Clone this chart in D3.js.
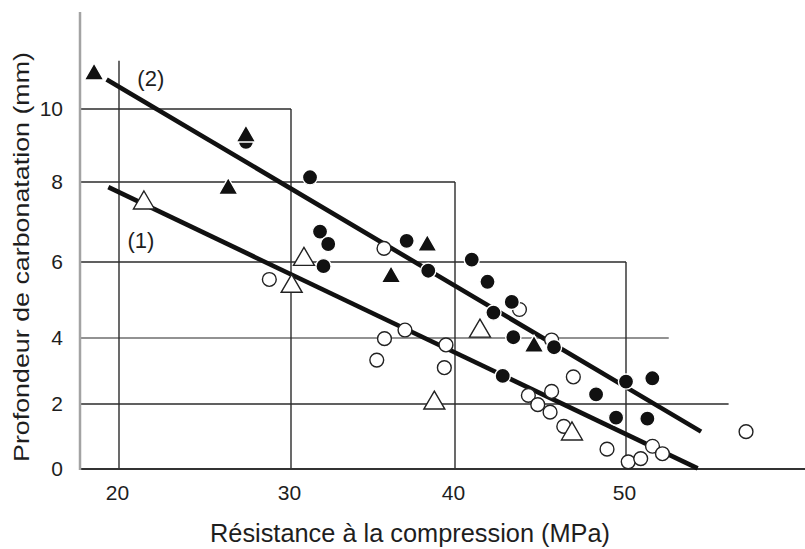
<!DOCTYPE html>
<html>
<head>
<meta charset="utf-8">
<script src="https://cdn.jsdelivr.net/npm/d3@7"></script>
<style>
  body { margin: 0; background: #fff; }
  svg { display: block; font-family: "Liberation Sans", Arial, Helvetica, sans-serif; }
</style>
</head>
<body>
<svg id="chart" width="805" height="549"></svg>
<script>
// Tick values of both axes
const xTicks = [20, 30, 40, 50];
const yTicks = [0, 2, 4, 6, 8, 10];

// Measurements: [compressive strength (MPa), carbonation depth (mm)]
const filledTriangles = [
  [18.55, 11.03], [27.38, 9.33], [26.35, 7.90], [38.31, 6.48],
  [36.10, 5.68], [44.62, 3.83]
];
const filledCircles = [
  [31.16, 8.13], [27.38, 9.10], [31.77, 6.76], [32.27, 6.45], [31.98, 5.89],
  [37.05, 6.53], [38.37, 5.77], [40.98, 6.06], [41.90, 5.48], [43.32, 4.95],
  [42.25, 4.67], [43.41, 4.02], [45.79, 3.72], [42.79, 2.85], [48.25, 2.29],
  [50.00, 2.68], [51.54, 2.78], [49.42, 1.58], [51.25, 1.55]
];
const openCircles = [
  [28.74, 5.54], [35.67, 6.34], [43.77, 4.75], [45.65, 3.94], [36.95, 4.21],
  [35.70, 3.98], [35.23, 3.33], [39.45, 3.79], [39.35, 3.10], [46.92, 2.82],
  [44.29, 2.26], [45.65, 2.38], [44.84, 1.98], [45.56, 1.75], [46.36, 1.31],
  [48.89, 0.61], [50.13, 0.22], [50.86, 0.32], [51.55, 0.70], [52.13, 0.47],
  [57.02, 1.15]
];
const openTriangles = [
  [21.45, 7.55], [30.79, 6.14], [30.04, 5.44], [41.46, 4.26],
  [38.74, 2.12], [46.84, 1.17]
];

// Fitted lines (1) and (2), given by their end points
const line1 = [[19.38, 7.87], [54.19, 0.02]];
const line2 = [[19.28, 10.81], [54.39, 1.15]];
const lineLabels = [
  { text: "(1)", at: [21.27, 6.55] },
  { text: "(2)", at: [21.85, 10.83] }
];

// Reading frames: horizontal guides run from the axis to x1, vertical guides from y1 down to 0
const hGuides = [
  { y: 10, x1: 30 }, { y: 8, x1: 40 }, { y: 6, x1: 50 }, { y: 4, x1: 52.5 }, { y: 2, x1: 56 }
];
const vGuides = [
  { x: 20, y1: 11.32 }, { x: 30, y1: 10 }, { x: 40, y1: 8 }, { x: 50, y1: 6 }
];

const xTitle = "Résistance à la compression (MPa)";
const yTitle = "Profondeur de carbonatation (mm)";

(function draw() {
  // ---- layout ----
  const plotLeft = 80, plotRight = 805, plotTop = 12, plotBottom = 469;

  const svg = d3.select("#chart");

  // Scales follow the graduations of the printed grid
  const x = d3.scaleLinear()
    .domain(xTicks)
    .range([119, 291, 455, 626]);
  const y = d3.scaleLinear()
    .domain(yTicks)
    .range([plotBottom, 404, 338, 262, 182, 109]);

  const gridColor = "#2b2b2b";

  // Horizontal guides
  svg.append("g").selectAll("line")
    .data(hGuides)
    .join("line")
    .attr("x1", plotLeft)
    .attr("x2", d => x(d.x1))
    .attr("y1", d => y(d.y))
    .attr("y2", d => y(d.y))
    .attr("stroke", d => d.y === 4 ? "#6e6e6e" : gridColor)
    .attr("stroke-width", 1.4);

  // Vertical guides
  svg.append("g").selectAll("line")
    .data(vGuides)
    .join("line")
    .attr("x1", d => x(d.x))
    .attr("x2", d => x(d.x))
    .attr("y1", d => y(d.y1))
    .attr("y2", y(0))
    .attr("stroke", gridColor)
    .attr("stroke-width", 1.4);

  // Axis lines
  svg.append("line")
    .attr("x1", plotLeft).attr("x2", plotRight)
    .attr("y1", y(0)).attr("y2", y(0))
    .attr("stroke", "#333").attr("stroke-width", 2);
  svg.append("line")
    .attr("x1", plotLeft).attr("x2", plotLeft)
    .attr("y1", plotTop).attr("y2", y(0) + 1)
    .attr("stroke", "#a3a3a3").attr("stroke-width", 2.5);

  // Tick labels through d3 axes (no tick marks, no domain path)
  const xAxis = svg.append("g")
    .attr("transform", `translate(0,${y(0)})`)
    .call(d3.axisBottom(x).tickValues(xTicks).tickSize(0).tickPadding(16));
  xAxis.select(".domain").remove();
  xAxis.selectAll("text")
    .attr("font-size", 21)
    .attr("font-family", "Liberation Sans, Arial, sans-serif")
    .attr("fill", "#1e1e1e")
    .attr("dx", -2);

  const yAxis = svg.append("g")
    .attr("transform", `translate(${plotLeft},0)`)
    .call(d3.axisLeft(y).tickValues(yTicks).tickSize(0).tickPadding(17));
  yAxis.select(".domain").remove();
  yAxis.selectAll("text")
    .attr("font-size", 21)
    .attr("font-family", "Liberation Sans, Arial, sans-serif")
    .attr("fill", "#1e1e1e");

  // Fitted lines
  const lineGen = d3.line().x(d => x(d[0])).y(d => y(d[1]));
  svg.append("g").selectAll("path")
    .data([line1, line2])
    .join("path")
    .attr("d", lineGen)
    .attr("fill", "none")
    .attr("stroke", "#111")
    .attr("stroke-width", 4.6)
    .attr("stroke-linecap", "butt");

  // Line labels
  svg.append("g").selectAll("text")
    .data(lineLabels)
    .join("text")
    .attr("x", d => x(d.at[0]))
    .attr("y", d => y(d.at[1]))
    .attr("text-anchor", "middle")
    .attr("dominant-baseline", "central")
    .attr("font-size", 22)
    .attr("fill", "#1e1e1e")
    .text(d => d.text);

  // Triangle shape centred on its bounding box
  function tri(w, h) {
    return `M0,${-h / 2}L${w / 2},${h / 2}L${-w / 2},${h / 2}Z`;
  }

  // Markers
  const marks = svg.append("g");
  marks.selectAll("circle.open")
    .data(openCircles)
    .join("circle")
    .attr("class", "open")
    .attr("cx", d => x(d[0]))
    .attr("cy", d => y(d[1]))
    .attr("r", 6.9)
    .attr("fill", "#fff")
    .attr("stroke", "#222")
    .attr("stroke-width", 1.4);

  marks.selectAll("circle.filled")
    .data(filledCircles)
    .join("circle")
    .attr("class", "filled")
    .attr("cx", d => x(d[0]))
    .attr("cy", d => y(d[1]))
    .attr("r", 7.6)
    .attr("fill", "#111")
    .attr("stroke", "#fff")
    .attr("stroke-width", 1.4);

  marks.selectAll("path.open")
    .data(openTriangles)
    .join("path")
    .attr("class", "open")
    .attr("transform", d => `translate(${x(d[0])},${y(d[1])})`)
    .attr("d", tri(21, 18))
    .attr("fill", "#fff")
    .attr("stroke", "#222")
    .attr("stroke-width", 1.4)
    .attr("stroke-linejoin", "miter");

  marks.selectAll("path.filled")
    .data(filledTriangles)
    .join("path")
    .attr("class", "filled")
    .attr("transform", d => `translate(${x(d[0])},${y(d[1])})`)
    .attr("d", tri(19.5, 17))
    .attr("fill", "#111")
    .attr("stroke", "#fff")
    .attr("stroke-width", 1.4);

  // Axis titles
  svg.append("text")
    .attr("x", 410)
    .attr("y", 542)
    .attr("text-anchor", "middle")
    .attr("font-size", 25)
    .attr("fill", "#1e1e1e")
    .attr("textLength", 400)
    .attr("lengthAdjust", "spacingAndGlyphs")
    .text(xTitle);

  svg.append("text")
    .attr("transform", "translate(29,257) rotate(-90)")
    .attr("text-anchor", "middle")
    .attr("font-size", 22)
    .attr("fill", "#1e1e1e")
    .attr("textLength", 410)
    .attr("lengthAdjust", "spacingAndGlyphs")
    .text(yTitle);
})();
</script>
</body>
</html>
